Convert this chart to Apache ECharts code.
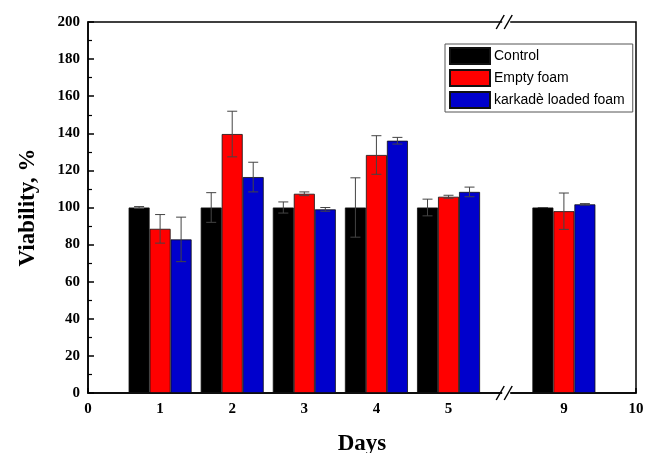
<!DOCTYPE html>
<html><head><meta charset="utf-8">
<script src="https://cdn.jsdelivr.net/npm/echarts@6/dist/echarts.min.js"></script>
<style>html,body{margin:0;padding:0;background:#fff}#c{width:650px;height:453px}</style>
</head><body><div id="c"></div>
<script>
const days = [1, 2, 3, 4, 5, 9];
const seriesNames = ['Control', 'Empty foam', 'karkadè loaded foam'];
const control = [100, 100, 100, 100, 100, 100];
const controlErr = [0.5, 8, 3, 16, 4.5, 0];
const emptyFoam = [88.5, 139.6, 107.4, 128.3, 105.8, 98];
const emptyErr = [7.7, 12.3, 1, 10.4, 0.8, 9.8];
const loadedFoam = [82.8, 116.4, 99, 136, 108.4, 101.7];
const loadedErr = [12, 8, 1, 1.8, 2.6, 0.4];
const xTicks = [0, 1, 2, 3, 4, 5, 9, 10];
const breakStart = 5.8, breakEnd = 8.2;
const colors = ['#000000', '#ff0000', '#0000cc'];

const values = [control, emptyFoam, loadedFoam];
const errs = [controlErr, emptyErr, loadedErr];
const BAR_W = 21;
const offsets = [-BAR_W, 0, BAR_W];

const chart = echarts.init(document.getElementById('c'));
const serif = 'Liberation Serif, Times New Roman, serif';

function errRender(off) {
  return function (params, api) {
    const x = api.value(0), v = api.value(1), e = api.value(2);
    const hi = api.coord([x, v + e]);
    const lo = api.coord([x, v - e]);
    const cx = hi[0] + off;
    const cap = 5;
    const st = { stroke: '#444', lineWidth: 1 };
    return {
      type: 'group', children: [
        { type: 'line', shape: { x1: cx, y1: hi[1], x2: cx, y2: lo[1] }, style: st },
        { type: 'line', shape: { x1: cx - cap, y1: hi[1], x2: cx + cap, y2: hi[1] }, style: st },
        { type: 'line', shape: { x1: cx - cap, y1: lo[1], x2: cx + cap, y2: lo[1] }, style: st }
      ]
    };
  };
}

const series = [];
seriesNames.forEach((name, i) => {
  series.push({
    name: name, type: 'bar', barWidth: BAR_W, barGap: '0%',
    itemStyle: { color: colors[i], borderColor: '#111', borderWidth: 0.8 },
    data: days.map((d, j) => [d, values[i][j]]),
    z: 2
  });
});
seriesNames.forEach((name, i) => {
  series.push({
    type: 'custom', renderItem: errRender(offsets[i]), z: 5, silent: true,
    data: days.map((d, j) => [d, values[i][j], errs[i][j]])
  });
});

chart.setOption({
  animation: false,
  backgroundColor: '#fff',
  grid: { left: 88, right: 14, top: 22, bottom: 60, show: true, borderColor: '#000', borderWidth: 1.5, containLabel: false, outerBoundsMode: 'none' },
  legend: {
    data: seriesNames, orient: 'vertical', left: 445, top: 44,
    itemWidth: 40, itemHeight: 16, itemGap: 4,
    padding: [3, 8, 3, 4],
    borderColor: '#555', borderWidth: 1, backgroundColor: '#fff',
    textStyle: { fontFamily: 'Liberation Sans, Arial, sans-serif', fontSize: 14, color: '#000', padding: [0, 0, 0, -1] },
    icon: 'rect'
  },
  xAxis: {
    type: 'value', min: 0, max: 10,
    breaks: [{ start: breakStart, end: breakEnd, gap: 0 }],
    breakArea: { show: false },
    name: 'Days', nameLocation: 'middle', nameGap: 40,
    nameTextStyle: { fontFamily: serif, fontWeight: 'bold', fontSize: 23, color: '#000' },
    axisLine: { lineStyle: { color: '#000', width: 1.5 } },
    axisTick: { inside: true, length: 5, customValues: xTicks, lineStyle: { color: '#000', width: 1.5 } },
    axisLabel: { customValues: xTicks, margin: 9, fontFamily: serif, fontWeight: 'bold', fontSize: 15, color: '#000' },
    splitLine: { show: false }
  },
  yAxis: {
    type: 'value', min: 0, max: 200, interval: 20,
    name: 'Viability, %', nameLocation: 'middle', nameGap: 48,
    nameTextStyle: { fontFamily: serif, fontWeight: 'bold', fontSize: 23, color: '#000' },
    axisLine: { show: true, lineStyle: { color: '#000', width: 1.5 } },
    axisTick: { show: true, inside: true, length: 6, lineStyle: { color: '#000', width: 1.5 } },
    minorTick: { show: true, splitNumber: 2, length: 4, lineStyle: { color: '#000', width: 1.2 } },
    axisLabel: { margin: 8, fontFamily: serif, fontWeight: 'bold', fontSize: 15, color: '#000' },
    splitLine: { show: false }
  },
  series: series
});

const bx = chart.convertToPixel({ xAxisIndex: 0 }, breakStart);
const gTop = 22, gBot = 393;
function slashes(y) {
  const st = { stroke: '#000', lineWidth: 1.5 };
  return [
    { type: 'rect', shape: { x: bx - 4, y: y - 2, width: 8, height: 4 }, style: { fill: '#fff' }, z: 100 },
    { type: 'line', shape: { x1: bx - 10, y1: y + 7, x2: bx - 2, y2: y - 7 }, style: st, z: 101 },
    { type: 'line', shape: { x1: bx - 2, y1: y + 7, x2: bx + 6, y2: y - 7 }, style: st, z: 101 }
  ];
}
chart.setOption({ graphic: [].concat(slashes(gTop), slashes(gBot)) });
</script></body></html>
